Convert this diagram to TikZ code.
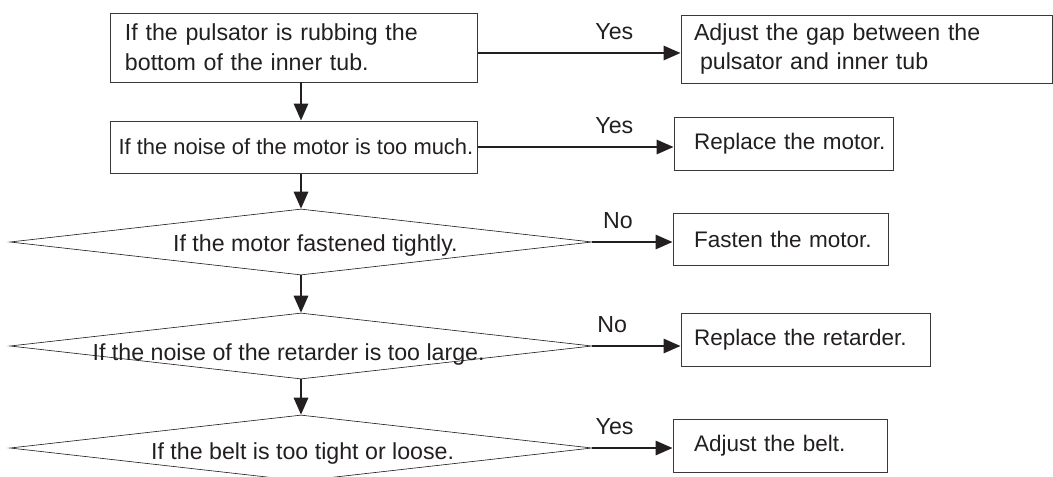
\documentclass[tikz,border=0pt]{standalone}
\usepackage{fontspec}
\setmainfont{Liberation Sans}
\usepackage{tikz}
\usetikzlibrary{
    arrows.meta,
    shapes.geometric,
    positioning
}
\definecolor{ink}{HTML}{231F20}
\definecolor{frame}{HTML}{3A3838}

\begin{document}
\begin{tikzpicture}[x=0.25mm,y=-0.25mm,->,>={Triangle[length=4.25mm,width=3.6mm]},line width=1.4pt,draw=ink,text=ink,
    every node/.style={font=\fontsize{16.5}{21.3}\selectfont},
    pad/.style={execute at begin node=\hspace*{#1}}]
    \tikzstyle{box}=[rectangle, draw=frame, line width=0.7pt, inner sep=0pt, align=left]
    \tikzstyle{remedy}=[box, font=\fontsize{16}{21.3}\selectfont]
    \tikzstyle{check}=[diamond, draw=ink, line width=0.45pt, inner sep=0pt, minimum width=145.5mm, minimum height=16.5mm]
    \tikzstyle{answer}=[above=3.1mm, inner sep=0pt]

    \useasboundingbox (0,0) rectangle (1053,476);

    \node[box, text width=84.25mm, inner xsep=3.75mm, minimum height=17.25mm] (rub) at (293.5,47.5) {If the pulsator is rubbing the\\bottom of the inner tub.};
    \node[box, minimum width=91.75mm, minimum height=13mm, font=\fontsize{15.6}{21.3}\selectfont] (noise) at (293.5,147) {\hspace*{1.2mm}If the noise of the motor is too much.};
    \node[check, label={[xshift=3.6mm,yshift=-0.9mm]center:If the motor fastened tightly.}] (tight) at (301,242) {};
    \node[check, label={[xshift=-3.1mm,yshift=-2mm]center:If the noise of the retarder is too large.}] (loud) at (301,346) {};
    \node[check, label={[xshift=0.4mm,yshift=-1.25mm]center:If the belt is too tight or loose.}] (slack) at (301,448) {};

    \node[box, text width=86.25mm, inner xsep=3.25mm, minimum height=17mm] (gap) at (866.5,49) {Adjust the gap between the\\\hspace*{1.5mm}pulsator and inner tub};
    \node[remedy, text width=54.75mm, pad=5mm, minimum height=13.25mm] (newmotor) at (783.5,143.5) {Replace the motor.};
    \node[remedy, text width=53.75mm, pad=5.25mm, minimum height=13mm] (fasten) at (780.5,239) {Fasten the motor.};
    \node[remedy, text width=62.25mm, pad=3.25mm, minimum height=13.25mm] (newret) at (805.5,339.5) {Replace the retarder.};
    \node[remedy, text width=53.5mm, pad=5.25mm, minimum height=13.25mm] (newbelt) at (780,445.5) {Adjust the belt.};

    % main line
    \draw (rub.south -| tight.north) -- (noise.north -| tight.north);
    \draw (noise.south -| tight.north) -- (tight.north);
    \draw (tight.south) -- (loud.north);
    \draw (loud.south) -- (slack.north);

    % remedies
    \draw ([yshift=-1.375mm]rub.east) -- ([yshift=-1.375mm]rub.east -| gap.west) node[answer, pos=0.674] {Yes};
    \draw (noise.east) -- (noise.east -| newmotor.west) node[answer, pos=0.698] {Yes};
    \draw (tight.east) -- (tight.east -| fasten.west) node[answer, pos=0.32] {No};
    \draw (loud.east) -- (loud.east -| newret.west) node[answer, pos=0.225] {No};
    \draw (slack.east) -- (slack.east -| newbelt.west) node[answer, pos=0.278] {Yes};
\end{tikzpicture}
\end{document}
